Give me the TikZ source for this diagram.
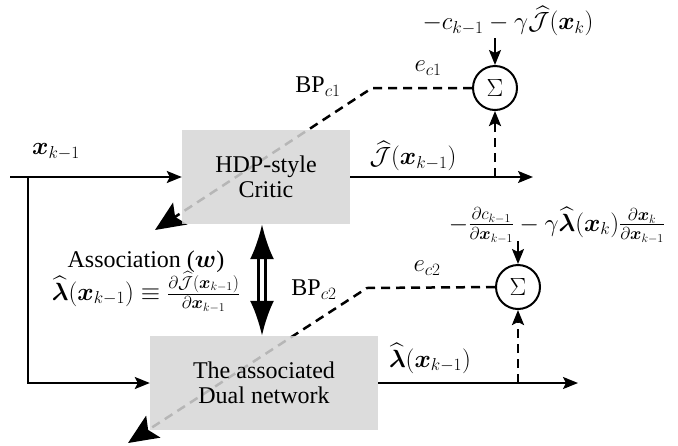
\documentclass[tikz,border=0pt]{standalone}
\usepackage{amsmath,amssymb,bm}
\usepackage{fontspec}
\setmainfont{Liberation Serif}
\usetikzlibrary{arrows.meta}
\definecolor{boxgray}{HTML}{D6D6D6}

\begin{document}
\begin{tikzpicture}[x=1pt,y=-1pt,
  font=\fontsize{24}{28}\selectfont,
  box/.style={fill=boxgray, fill opacity=0.85, text opacity=1, align=center, inner sep=0pt},
  sumnode/.style={circle, draw, line width=2pt, minimum size=44pt, inner sep=0pt},
  flow/.style={line width=2pt, -{Stealth[length=15pt,width=12pt,inset=3pt]}},
  errline/.style={line width=2.5pt, dash pattern=on 9pt off 6pt},
  bptip/.style={-{Stealth[length=30pt,width=26pt,inset=6pt]}},
  lbl/.style={inner sep=0pt}
]
\useasboundingbox (0,0) rectangle (678,445);

% sum junctions
\node[sumnode] (s1) at (495,88) {$\Sigma$};
\node[sumnode] (s2) at (518,287) {$\Sigma$};

% back-propagation paths (drawn first so the boxes veil them)
\coordinate (c1) at (372,88);
\coordinate (e1) at (155,230);
\coordinate (c2) at (367,288);
\coordinate (e2) at (128,443);
\draw[errline, bptip] (s1.west) -- (c1) -- (e1);
\draw[errline, bptip] (s2.west) -- (c2) -- (e2);

% the two networks
\node[box, minimum width=168pt, minimum height=94pt] (critic) at (266,177) {HDP-style\\[-3pt]Critic};
\node[box, minimum width=228pt, minimum height=94pt] (dual) at (264,383) {The associated\\[-3pt]Dual network};

% state input
\coordinate (in) at (10,177);
\coordinate (br) at (28,177);
\draw[flow] (in) -- (critic.west);
\draw[flow] (br) |- (dual.west);
\node[lbl] (xin) at (56,152) {$\boldsymbol{x}_{k-1}$};

% network outputs
\coordinate (o1) at (533,177);
\coordinate (t1) at (495,177);
\draw[flow] (critic.east) -- (o1);
\node[lbl] (jout) at (413,156) {$\widehat{\mathcal{J}}(\boldsymbol{x}_{k-1})$};
\coordinate (o2) at (578,383);
\coordinate (t2) at (518,383);
\draw[flow] (dual.east) -- (o2);
\node[lbl] (lout) at (430,358) {$\widehat{\boldsymbol{\lambda}}(\boldsymbol{x}_{k-1})$};

% outputs fed to the sums
\draw[errline, -{Stealth[length=15pt,width=12pt,inset=3pt]}] (t1) -- (s1.south);
\draw[errline, -{Stealth[length=15pt,width=12pt,inset=3pt]}] (t2) -- (s2.south);

% targets
\coordinate (d1) at (495,38);
\coordinate (d2) at (518,241);
\draw[flow] (d1) -- (s1.north);
\draw[flow] (d2) -- (s2.north);
\node[lbl] (tgt1) at (508,21) {$-c_{k-1}-\gamma\widehat{\mathcal{J}}(\boldsymbol{x}_k)$};
\node[lbl] (tgt2) at (557,225) {$-\frac{\partial c_{k-1}}{\partial\boldsymbol{x}_{k-1}}-\gamma\widehat{\boldsymbol{\lambda}}(\boldsymbol{x}_k)\frac{\partial\boldsymbol{x}_k}{\partial\boldsymbol{x}_{k-1}}$};

% error labels
\node[lbl] (ec1) at (428,68) {$e_{c1}$};
\node[lbl] (ec2) at (427,268) {$e_{c2}$};
\node[lbl] (bp1) at (318,87) {BP$_{c1}$};
\node[lbl] (bp2) at (314,290) {BP$_{c2}$};

% association between the networks
\draw[line width=3pt, double, double distance=4pt,
  {Latex[length=35pt,width=24pt]}-{Latex[length=35pt,width=24pt]}]
  (critic.south -| 262,0) -- (dual.north -| 262,0);
\node[lbl] (assoc) at (146,262) {Association ($\boldsymbol{w}$)};
\node[lbl] (eqn) at (146,292) {$\widehat{\boldsymbol{\lambda}}(\boldsymbol{x}_{k-1})\equiv\frac{\partial\widehat{\mathcal{J}}(\boldsymbol{x}_{k-1})}{\partial\boldsymbol{x}_{k-1}}$};
\end{tikzpicture}
\end{document}
